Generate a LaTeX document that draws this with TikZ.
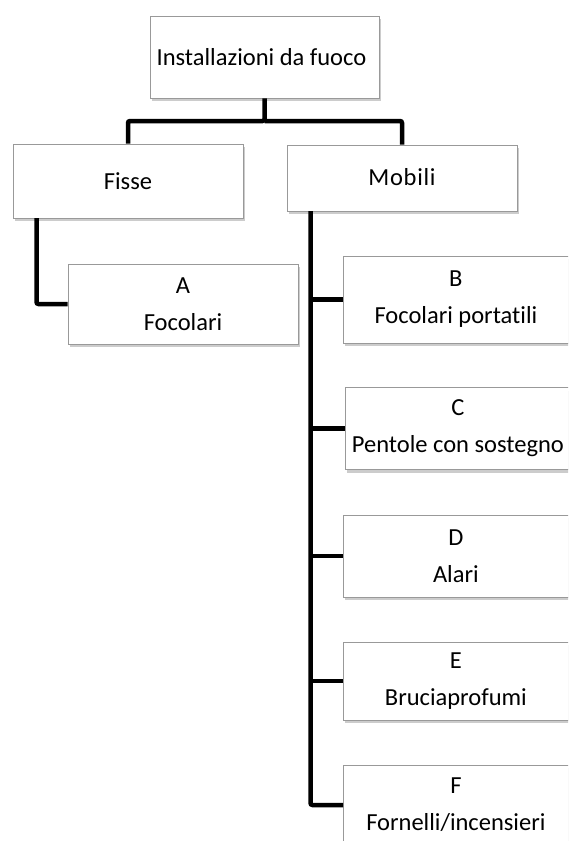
\documentclass[tikz,border=0pt]{standalone}
\usepackage{fontspec}
\setmainfont[Ligatures=NoCommon]{Carlito}
\usetikzlibrary{shadows}
\begin{document}
\begin{tikzpicture}[x=1pt,y=-1pt,
  box/.style={draw=black!40, line width=0.8pt, fill=white, inner sep=0pt,
    font=\fontsize{24.5}{29.5}\selectfont, align=center,
    drop shadow={opacity=0.4, shadow xshift=2pt, shadow yshift=-3pt}},
  bigbox/.style={box, anchor=west, minimum width=250pt},
  conn/.style={line width=4.5pt, rounded corners=2pt}]
\clip (0,0) rectangle (568,841);
\fill[white] (0,0) rectangle (568,841);
\node[box, minimum width=229pt, minimum height=82pt] (top) at (264.5,57) {\hspace*{-6pt}Installazioni da fuoco};
\node[box, minimum width=230pt, minimum height=74pt] (fisse) at (128,181) {Fisse};
\node[box, minimum width=230pt, minimum height=66pt] (mobili) at (402,178) {\raisebox{2pt}{\addfontfeatures{LetterSpace=3}Mobili}};
\node[box, minimum width=230pt, minimum height=80pt] (a) at (183,304) {A\\[7pt]Focolari};
\node[bigbox, minimum height=87pt] (b) at (343,299.5) {\hspace*{-25pt}B\\[7.5pt]\hspace*{-25pt}Focolari portatili};
\node[bigbox, minimum height=82pt] (c) at (345,428.5) {\hspace*{-25pt}C\\[7.5pt]\hspace*{-25pt}Pentole con sostegno};
\node[bigbox, minimum height=82pt] (d) at (343,556) {\hspace*{-25pt}D\\[7.5pt]\hspace*{-25pt}Alari};
\node[bigbox, minimum height=78pt] (e) at (343,681) {\hspace*{-25pt}E\\[7.5pt]\hspace*{-25pt}Bruciaprofumi};
\node[bigbox, minimum height=80pt] (f) at (343,805) {\hspace*{-25pt}F\\[7.5pt]\hspace*{-25pt}Fornelli/incensieri};
\coordinate (j) at (264.5,121);
\coordinate (ms) at (310.5,211);
\coordinate (fs) at (36.5,218);
\draw[conn] (top.south) -- (j) -| (fisse.north);
\draw[conn] (j) -| (mobili.north);
\draw[conn] (fs) |- (a.west);
\draw[conn] (ms) |- (f.west);
\draw[conn] (ms |- b.west) -- (b.west);
\draw[conn] (ms |- c.west) -- (c.west);
\draw[conn] (ms |- d.west) -- (d.west);
\draw[conn] (ms |- e.west) -- (e.west);
\end{tikzpicture}
\end{document}
